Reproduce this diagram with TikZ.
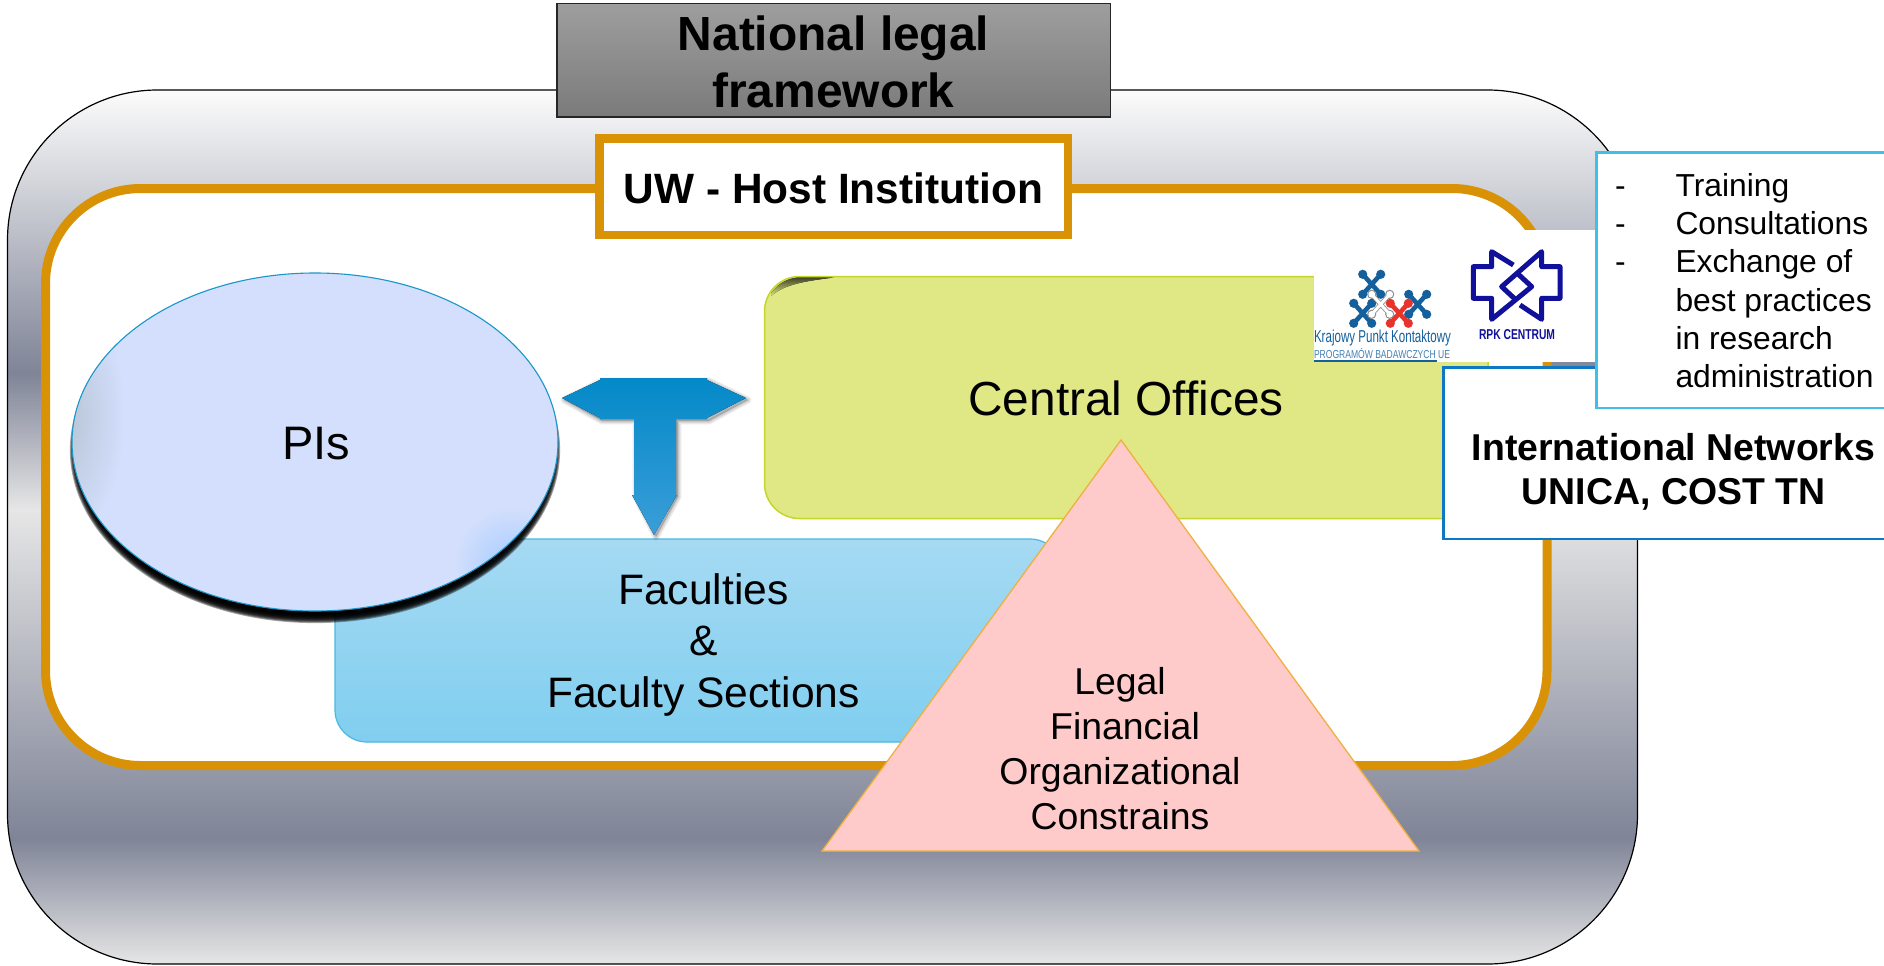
\documentclass[tikz,border=0pt]{standalone}
\usepackage{fontspec}
\setmainfont{Liberation Sans}
\definecolor{cwhite}{HTML}{FCFCFC}
\definecolor{cdark}{HTML}{7F8497}
\definecolor{clight}{HTML}{E6E6E6}
\definecolor{corange}{HTML}{D99206}
\definecolor{cgreen}{HTML}{DFE884}
\definecolor{cgreenb}{HTML}{C5D52A}
\definecolor{cfactop}{HTML}{A6DAF2}
\definecolor{cfacbot}{HTML}{80CEF0}
\definecolor{cfacb}{HTML}{4BB8E0}
\definecolor{cpi}{HTML}{D3DFFC}
\definecolor{cpib}{HTML}{1A96C8}
\definecolor{cpiglow}{HTML}{A6CCFF}
\definecolor{cpigrey}{HTML}{B4C2D2}
\definecolor{carrt}{HTML}{0489C8}
\definecolor{carrm}{HTML}{0293D6}
\definecolor{carrb}{HTML}{3A9ED8}
\definecolor{ctri}{HTML}{FECACA}
\definecolor{ctrib}{HTML}{F0B040}
\definecolor{clist}{HTML}{3FC0E8}
\definecolor{cintl}{HTML}{0F78C4}
\definecolor{clogob}{HTML}{14609C}
\definecolor{clogor}{HTML}{E8322C}
\definecolor{clogon}{HTML}{10109A}
\pgfdeclareverticalshading{chrome}{100bp}{color(0bp)=(cwhite);color(25bp)=(clight);color(32.2bp)=(cdark);color(51bp)=(clight);color(58.8bp)=(cdark);color(75bp)=(cwhite);color(100bp)=(cwhite)}
\newcommand{\fsz}[2]{\fontsize{#1}{#2}\selectfont}
\newcommand{\molecule}[3]{%
  \draw[#3,line width=4.6pt] (#1-9,#2-10) -- (#1+9,#2+10) (#1+9,#2-10) -- (#1-9,#2+10);
  \foreach \sx in {-1,1}{\foreach \sy in {-1,1}{\fill[#3] (#1+\sx*9,#2+\sy*10) circle (4.6pt);}}}
\tikzset{
  x=1pt,y=-1pt,
  txt/.style={inner sep=0pt,outer sep=0pt,anchor=base,align=center},
  logotxt/.style={inner sep=0pt,outer sep=0pt,anchor=base west},
}
\begin{document}
\begin{tikzpicture}
\useasboundingbox (0,0) rectangle (1884,966);
\fill[white] (0,0) rectangle (1884,966);
% outer frame
\draw[black,line width=1.2pt,rounded corners=150pt,shading=chrome] (7.5,90) rectangle (1637.5,964);
% national box
\draw[black!85,line width=1.5pt,top color=black!38,bottom color=black!52] (557,3.5) rectangle (1110.5,117);
\node[txt,font=\bfseries\fsz{47.9}{57}] (national) at (833.5,107) {National legal\\framework};
% host frame
\draw[corange,line width=9pt,fill=white,rounded corners=95pt] (45.5,188.5) rectangle (1547,765.5);
% faculties
\draw[cfacb,line width=1.2pt,top color=cfactop,bottom color=cfacbot,rounded corners=32pt] (335,539) rectangle (1062,742);
\node[txt,font=\fsz{42.6}{51.5}] (faculties) at (703.5,707) {Faculties\\\&\\Faculty Sections};
% central offices
\draw[cgreenb,line width=1.5pt,fill=cgreen,rounded corners=35pt] (764.5,276.5) rectangle (1488,518.5);
\begin{scope}
  \clip[rounded corners=35pt] (765.5,277.5) rectangle (1488,518.5);
  \fill[top color=black!72!cgreen,bottom color=cgreen] (771,296) .. controls (785,284) and (805,281) .. (838,277) -- (790,277) -- (771,285) -- cycle;
\end{scope}
\node[txt,font=\fsz{47.8}{57}] (central) at (1126,415) {Central Offices};
% PI ellipse with shadow
\foreach \i in {0,1,...,9}{\fill[black,opacity=.36] (315,450) ellipse ({243+\i*0.9-6} and {169+\i*0.9-4});}
\begin{scope}
  \clip (315,442) ellipse (243 and 169);
  \fill[cpi] (72,273) rectangle (558,611);
  \shade[inner color=cpigrey,outer color=cpi] (60,415) ellipse (65 and 130);
  \shade[inner color=cpiglow,outer color=cpi] (512,565) circle (58);
\end{scope}
\draw[cpib,line width=1.1pt] (315,442) ellipse (243 and 169);
\node[txt,font=\fsz{47}{56}] (pis) at (316,459) {PIs};
% T arrow shadow and arrow
\foreach \i in {1,2,3,4}{
  \draw[black,opacity=.05,line width=\i*1.8pt,line join=round,fill=black] (564,400) -- (602,381) -- (709,381) -- (748,400) -- (709,421) -- (678,421) -- (678,497) -- (656,537) -- (636,497) -- (636,421) -- (602,421) -- cycle;}
\fill[top color=carrt,middle color=carrm,bottom color=carrb] (562,398) -- (600,380) -- (600,378) -- (707,378) -- (707,380) -- (746,398) -- (707,418) -- (707,419) -- (676,419) -- (676,495) -- (677,495) -- (654,535) -- (632,495) -- (634,495) -- (634,419) -- (600,419) -- (600,418) -- cycle;
% logos
\fill[white] (1314,270) rectangle (1451,362);
\fill[white] (1440,230) rectangle (1596,362);
\molecule{1371.7}{284.3}{clogob}
\molecule{1362.7}{313.3}{clogob}
\molecule{1417.7}{304.3}{clogob}
\molecule{1380.7}{304.3}{black!45}
\draw[white,line width=3pt] (1371.7,294.3) -- (1389.7,314.3) (1389.7,294.3) -- (1371.7,314.3);
\foreach \px/\py in {1371.7/294.3,1389.7/294.3,1371.7/314.3,1389.7/314.3}{\fill[white] (\px,\py) circle (3.4pt);}
\molecule{1399.3}{313.3}{clogor}
\node[logotxt,text=clogob] (kpkone) at (1314,342) {\resizebox{137pt}{12.5pt}{Krajowy Punkt Kontaktowy}};
\node[logotxt,text=clogob!80!white] (kpktwo) at (1314,358) {\resizebox{136pt}{10pt}{PROGRAMÓW BADAWCZYCH UE}};
\coordinate (kpkl) at (1314,361);
\coordinate (kpkr) at (1437,361);
\draw[clogob,line width=2pt] (kpkl) -- (kpkr);
\begin{scope}[shift={(1460,240)},x=0.3333pt,y=-0.3333pt]
  \draw[clogon,line width=5pt,line join=round] (160,75) -- (95,35) -- (95,80) -- (40,80) -- (40,175) -- (95,175) -- (95,238) -- (215,140) -- (172,100);
  \draw[clogon,line width=5pt,line join=round] (180,195) -- (245,238) -- (245,175) -- (300,175) -- (300,80) -- (245,80) -- (245,35) -- (125,140) -- (168,180);
\end{scope}
\node[logotxt,text=clogon] (rpk) at (1479,339) {\resizebox{76pt}{10pt}{\bfseries RPK CENTRUM}};
% triangle
\draw[ctrib,line width=1.3pt,fill=ctri,line join=miter] (1121,440) -- (1419,851) -- (822,851) -- cycle;
\node[txt,font=\fsz{37.4}{45}] (legal) at (1120,829) {Legal\\ \hspace*{10pt}Financial\\Organizational\\Constrains};
% host label
\draw[corange,line width=8.5pt,fill=white] (599.5,138.5) rectangle (1068,235);
\node[txt,font=\bfseries\fsz{42.4}{50}] (uw) at (833.5,203) {UW - Host Institution};
% international
\draw[cintl,line width=2.6pt,fill=white] (1443.5,367.5) rectangle (1895,539);
\node[txt,font=\bfseries\fsz{37.4}{44.5}] (intl) at (1673.5,504.5) {International Networks\\UNICA, COST TN};
% list
\draw[clist,line width=2.6pt,fill=white] (1596.5,152.5) rectangle (1895,408);
\node[txt,anchor=base west,align=left,font=\fsz{31.8}{38.2}] (list) at (1615,387.5) {\makebox[60.5pt][l]{-}Training\\\makebox[60.5pt][l]{-}Consultations\\\makebox[60.5pt][l]{-}Exchange of\\\hspace*{60.5pt}best practices\\\hspace*{60.5pt}in research\\\hspace*{60.5pt}administration};
\end{tikzpicture}
\end{document}
